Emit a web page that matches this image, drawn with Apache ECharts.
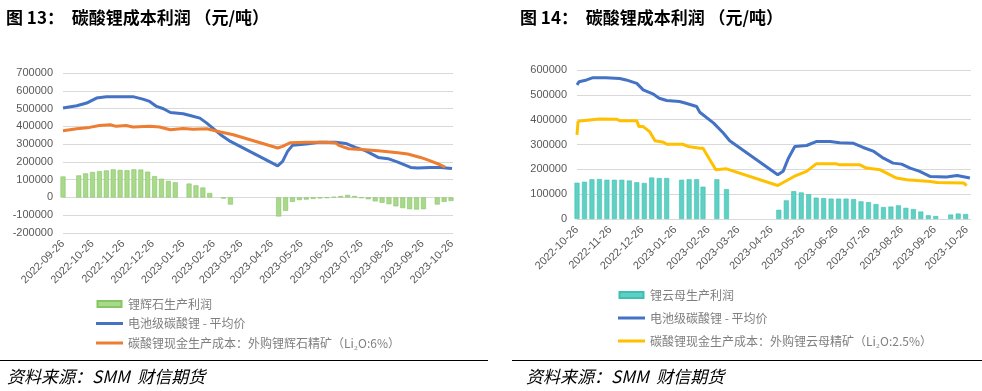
<!DOCTYPE html>
<html>
<head>
<meta charset="utf-8">
<script src="https://cdn.jsdelivr.net/npm/echarts@6/dist/echarts.min.js"></script>
<style>
html,body{margin:0;padding:0;background:#fff;}
#c{width:982px;height:391px;}
</style>
</head>
<body>
<div id="c"></div>
<script>
// ---------- tick labels ----------
const leftTicks = ['2022-09-26','2022-10-26','2022-11-26','2022-12-26','2023-01-26','2023-02-26','2023-03-26','2023-04-26','2023-05-26','2023-06-26','2023-07-26','2023-08-26','2023-09-26','2023-10-26'];
const rightTicks = ['2022-10-26','2022-11-26','2022-12-26','2023-01-26','2023-02-26','2023-03-26','2023-04-26','2023-05-26','2023-06-26','2023-07-26','2023-08-26','2023-09-26','2023-10-26'];

// ---------- chart 13 (spodumene) ----------
const spodProfit = [
  ['2022-09-26',118000],['2022-10-12',124000],['2022-10-19',135000],['2022-10-26',143000],['2022-11-02',148000],
  ['2022-11-09',152000],['2022-11-16',158000],['2022-11-23',155000],['2022-11-30',153000],['2022-12-07',158000],
  ['2022-12-14',157000],['2022-12-21',145000],['2022-12-28',120000],['2023-01-04',105000],['2023-01-11',93000],
  ['2023-01-18',85000],['2023-02-01',78000],['2023-02-08',68000],['2023-02-15',56000],['2023-02-22',25000],
  ['2023-03-08',-6000],['2023-03-15',-40000],
  ['2023-05-03',-107000],['2023-05-10',-75000],['2023-05-17',-25000],['2023-05-24',-15000],['2023-05-31',-12000],
  ['2023-06-07',-8000],['2023-06-14',-5000],['2023-06-21',-3000],['2023-06-28',3000],['2023-07-05',8000],
  ['2023-07-12',14000],['2023-07-19',8000],['2023-07-26',-3000],['2023-08-02',-10000],['2023-08-09',-22000],
  ['2023-08-16',-30000],['2023-08-23',-38000],['2023-08-30',-50000],['2023-09-06',-60000],['2023-09-13',-66000],
  ['2023-09-20',-68000],['2023-09-27',-66000],['2023-10-11',-40000],['2023-10-18',-25000],['2023-10-25',-20000]
];
const priceLeft = [
  ['2022-09-26',503000],['2022-10-10',516000],['2022-10-20',531000],['2022-10-30',559000],['2022-11-09',567000],
  ['2022-12-06',567000],['2022-12-16',553000],['2022-12-23',540000],['2022-12-30',512000],['2023-01-06',499000],
  ['2023-01-13',478000],['2023-01-26',471000],['2023-02-02',461000],['2023-02-12',446000],['2023-02-19',418000],
  ['2023-03-05',353000],['2023-03-15',315000],['2023-05-02',178000],['2023-05-07',203000],['2023-05-12',259000],
  ['2023-05-17',293000],['2023-05-31',300000],['2023-06-13',311000],['2023-06-30',311000],['2023-07-10',304000],
  ['2023-07-20',281000],['2023-07-30',263000],['2023-08-12',225000],['2023-08-22',218000],['2023-09-01',199000],
  ['2023-09-14',169000],['2023-09-21',165000],['2023-10-04',169000],['2023-10-14',169000],['2023-10-26',163000]
];
const costSpod = [
  ['2022-09-26',375000],['2022-09-28',386000],['2022-10-10',386000],['2022-10-23',394000],['2022-11-02',405000],
  ['2022-11-13',409000],['2022-11-19',400000],['2022-11-29',405000],['2022-12-06',396000],['2022-12-23',400000],
  ['2023-01-02',396000],['2023-01-13',381000],['2023-01-26',388000],['2023-02-05',383000],['2023-02-19',386000],
  ['2023-03-05',368000],['2023-03-18',353000],['2023-05-02',278000],['2023-05-07',287000],['2023-05-15',308000],
  ['2023-05-31',310000],['2023-06-20',311000],['2023-06-30',306000],['2023-07-03',293000],['2023-07-13',274000],
  ['2023-07-30',268000],['2023-08-12',263000],['2023-09-01',251000],['2023-09-11',244000],['2023-09-24',225000],
  ['2023-10-04',206000],['2023-10-14',184000],['2023-10-19',171000]
];

// ---------- chart 14 (lepidolite) ----------
const lepiProfit = [
  ['2022-10-26',146000],['2022-11-02',150000],['2022-11-09',160000],['2022-11-16',161000],['2022-11-23',158000],
  ['2022-11-30',158000],['2022-12-07',158000],['2022-12-14',155000],['2022-12-21',148000],['2022-12-28',145000],
  ['2023-01-04',167000],['2023-01-11',165000],['2023-01-18',165000],['2023-02-01',158000],['2023-02-08',160000],
  ['2023-02-15',160000],['2023-02-21',130000],['2023-03-06',160000],['2023-03-15',120000],
  ['2023-05-03',37000],['2023-05-10',75000],['2023-05-17',112000],['2023-05-24',107000],['2023-05-31',100000],
  ['2023-06-07',86000],['2023-06-14',84000],['2023-06-21',82000],['2023-06-28',82000],['2023-07-05',82000],
  ['2023-07-12',80000],['2023-07-19',71000],['2023-07-26',68000],['2023-08-02',60000],['2023-08-09',48000],
  ['2023-08-16',50000],['2023-08-23',55000],['2023-08-30',45000],['2023-09-06',40000],['2023-09-13',30000],
  ['2023-09-20',15000],['2023-09-27',12000],['2023-10-11',18000],['2023-10-18',22000],['2023-10-25',20000]
];
const priceRight = [
  ['2022-10-26',540000],['2022-10-28',553000],['2022-11-04',560000],['2022-11-10',569000],['2022-11-22',569000],
  ['2022-12-05',566000],['2022-12-11',560000],['2022-12-21',546000],['2022-12-27',520000],['2023-01-05',504000],
  ['2023-01-11',486000],['2023-01-18',477000],['2023-01-30',473000],['2023-02-05',466000],['2023-02-15',453000],
  ['2023-02-18',430000],['2023-03-03',386000],['2023-03-12',346000],['2023-03-18',315000],['2023-05-02',178000],
  ['2023-05-07',192000],['2023-05-12',245000],['2023-05-18',292000],['2023-05-29',296000],['2023-06-07',312000],
  ['2023-06-20',312000],['2023-06-29',307000],['2023-07-12',305000],['2023-07-21',288000],['2023-07-31',272000],
  ['2023-08-09',245000],['2023-08-18',225000],['2023-08-26',221000],['2023-09-03',205000],['2023-09-12',192000],
  ['2023-09-22',171000],['2023-10-07',169000],['2023-10-17',175000],['2023-10-29',165000]
];
const costLepi = [
  ['2022-10-26',339000],['2022-10-27',392000],['2022-10-31',396000],['2022-11-16',403000],['2022-12-02',402000],
  ['2022-12-05',396000],['2022-12-21',396000],['2022-12-23',372000],['2022-12-27',372000],['2023-01-02',352000],
  ['2023-01-07',315000],['2023-01-15',309000],['2023-01-18',301000],['2023-02-02',301000],['2023-02-07',292000],
  ['2023-02-18',285000],['2023-02-21',285000],['2023-03-05',198000],['2023-03-15',202000],['2023-05-02',135000],
  ['2023-05-19',175000],['2023-05-29',192000],['2023-06-07',222000],['2023-06-26',222000],['2023-06-29',218000],
  ['2023-07-18',218000],['2023-07-24',205000],['2023-08-06',198000],['2023-08-12',185000],['2023-08-21',165000],
  ['2023-08-31',158000],['2023-09-22',151000],['2023-09-28',147000],['2023-10-23',145000],['2023-10-26',135000]
];

// ---------- helpers ----------
function ts(s){ const p = s.split('-').map(Number); return Date.UTC(p[0], p[1]-1, p[2]); }
function pad(n){ return (n<10?'0':'')+n; }
function fmt(v){ const d = new Date(v); return d.getUTCFullYear()+'-'+pad(d.getUTCMonth()+1)+'-'+pad(d.getUTCDate()); }
function conv(arr){ return arr.map(p => [ts(p[0]), p[1]]); }

const numFont = 'Liberation Sans';
const cjk = 'Noto Sans CJK SC';
const names = {
  spod: '锂辉石生产利润',
  price: '电池级碳酸锂 - 平均价',
  costS: '碳酸锂现金生产成本：外购锂辉石精矿（Li₂O:6%）',
  lepi: '锂云母生产利润',
  costL: '碳酸锂现金生产成本：外购锂云母精矿（Li₂O:2.5%）'
};
const barIcon = 'path://M0,0H24V6H0Z';
const lineIcon = 'path://M0,0H27V3H0Z';

function xAxisCfg(gi, min, max, ticks){
  return {
    type: 'value', gridIndex: gi, min: ts(min), max: ts(max), scale: true,
    axisLine: {show: false}, axisTick: {show: false}, splitLine: {show: false},
    axisLabel: {
      customValues: ticks.map(ts), rotate: 45, margin: 9, showMinLabel: true, showMaxLabel: true,
      formatter: fmt, color: '#595959', fontSize: 11, fontFamily: numFont, hideOverlap: false
    }
  };
}
function yAxisCfg(gi, min, max){
  return {
    type: 'value', gridIndex: gi, min: min, max: max, interval: 100000,
    axisLine: {show: false}, axisTick: {show: false},
    splitLine: {lineStyle: {color: '#d9d9d9', width: 1}},
    axisLabel: {color: '#595959', fontSize: 11, fontFamily: numFont, margin: 10,
      formatter: function(v){ return String(v); }}
  };
}
const titleStyle = {fontSize: 17, fontWeight: 'bold', color: '#000', fontFamily: cjk};
const legendText = {color: '#7f7f7f', fontSize: 12, fontFamily: cjk, lineHeight: 14};

const chart = echarts.init(document.getElementById('c'), null, {renderer: 'canvas'});
chart.setOption({
  animation: false,
  backgroundColor: '#fff',
  title: [
    {text: '图 13：  碳酸锂成本利润 （元/吨）', left: 6, top: 9, padding: 0, textStyle: titleStyle},
    {text: '图 14：  碳酸锂成本利润 （元/吨）', left: 520, top: 9, padding: 0, textStyle: titleStyle}
  ],
  grid: [
    {left: 63, top: 73, width: 390, height: 160},
    {left: 577, top: 70, width: 394, height: 149}
  ],
  xAxis: [
    xAxisCfg(0, '2022-09-26', '2023-10-27', leftTicks),
    xAxisCfg(1, '2022-10-26', '2023-10-30', rightTicks)
  ],
  yAxis: [
    yAxisCfg(0, -200000, 700000),
    yAxisCfg(1, 0, 600000)
  ],
  legend: [
    {orient: 'vertical', left: 96, top: 297, padding: 0, itemWidth: 27, itemHeight: 6, itemGap: 5.5,
     textStyle: legendText,
     data: [{name: names.spod, icon: barIcon}, {name: names.price, icon: lineIcon}, {name: names.costS, icon: lineIcon}]},
    {orient: 'vertical', left: 618, top: 288, padding: 0, itemWidth: 27, itemHeight: 6, itemGap: 9,
     textStyle: legendText,
     data: [{name: names.lepi, icon: barIcon}, {name: names.price, icon: lineIcon}, {name: names.costL, icon: lineIcon}]}
  ],
  series: [
    {name: names.spod, type: 'bar', xAxisIndex: 0, yAxisIndex: 0, barWidth: 5,
     itemStyle: {color: '#a9d98b', borderColor: '#86c564', borderWidth: 0.6}, data: conv(spodProfit)},
    {name: names.price, type: 'line', xAxisIndex: 0, yAxisIndex: 0, showSymbol: false, symbol: 'none',
     lineStyle: {color: '#4472C4', width: 3}, itemStyle: {color: '#4472C4'}, data: conv(priceLeft), z: 3},
    {name: names.costS, type: 'line', xAxisIndex: 0, yAxisIndex: 0, showSymbol: false, symbol: 'none',
     lineStyle: {color: '#ED7D31', width: 3}, itemStyle: {color: '#ED7D31'}, data: conv(costSpod), z: 4},
    {name: names.lepi, type: 'bar', xAxisIndex: 1, yAxisIndex: 1, barWidth: 5,
     itemStyle: {color: '#5fd0c3', borderColor: '#3cc1b1', borderWidth: 0.6}, data: conv(lepiProfit)},
    {name: names.price, type: 'line', xAxisIndex: 1, yAxisIndex: 1, showSymbol: false, symbol: 'none',
     lineStyle: {color: '#4472C4', width: 3}, itemStyle: {color: '#4472C4'}, data: conv(priceRight), z: 3},
    {name: names.costL, type: 'line', xAxisIndex: 1, yAxisIndex: 1, showSymbol: false, symbol: 'none',
     lineStyle: {color: '#FFC000', width: 3}, itemStyle: {color: '#FFC000'}, data: conv(costLepi), z: 4}
  ],
  graphic: [
    {type: 'line', shape: {x1: 0, y1: 360.5, x2: 488, y2: 360.5}, style: {stroke: '#000', lineWidth: 1}},
    {type: 'line', shape: {x1: 512, y1: 360.5, x2: 982, y2: 360.5}, style: {stroke: '#000', lineWidth: 1}},
    {type: 'text', left: 7, top: 368, style: {text: '资料来源：SMM  财信期货', font: 'italic 17px "Noto Sans CJK SC"', fill: '#000'}},
    {type: 'text', left: 526, top: 368, style: {text: '资料来源：SMM  财信期货', font: 'italic 17px "Noto Sans CJK SC"', fill: '#000'}}
  ]
});
</script>
</body>
</html>
